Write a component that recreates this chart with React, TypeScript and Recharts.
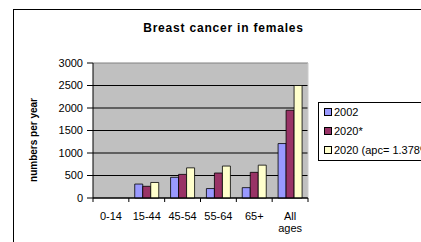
import { BarChart, Bar, XAxis, YAxis, CartesianGrid } from 'recharts';

const ageGroups = ['0-14', '15-44', '45-54', '55-64', '65+', 'All ages'];
const cases2002 = [0, 310, 460, 210, 230, 1210];
const cases2020 = [0, 260, 525, 555, 570, 1950];
const cases2020Apc = [0, 345, 670, 710, 730, 2500];
const yTicks = [0, 500, 1000, 1500, 2000, 2500, 3000];

const series = [
  { key: 'y2002', name: '2002', color: '#9999FF' },
  { key: 'y2020', name: '2020*', color: '#993366' },
  { key: 'y2020apc', name: '2020 (apc= 1.378%)', color: '#FFFFCC' },
];

const data = ageGroups.map((age, i) => ({
  age,
  y2002: cases2002[i],
  y2020: cases2020[i],
  y2020apc: cases2020Apc[i],
}));

const font = '"Liberation Sans", Arial, sans-serif';

function AgeTick(props: any) {
  const { x, y, payload, index, visibleTicksCount, width } = props;
  const half = payload.offset ?? width / (2 * visibleTicksCount);
  const lines = String(payload.value).split(' ');
  return (
    <g>
      <line x1={x - half} y1={y} x2={x - half} y2={y + 4} stroke="#000" />
      {index === visibleTicksCount - 1 && (
        <line x1={x + half} y1={y} x2={x + half} y2={y + 4} stroke="#000" />
      )}
      {lines.map((t, i) => (
        <text key={t} x={x} y={y + 22 + i * 12} textAnchor="middle" fontSize={11} fill="#000">
          {t}
        </text>
      ))}
    </g>
  );
}

function GridLine(p: any) {
  const top = p.y1 === p.y;
  return (
    <line
      key={p.key}
      x1={p.x1}
      y1={p.y1}
      x2={p.x2}
      y2={p.y2}
      stroke={top ? '#808080' : '#000'}
      strokeWidth={1}
    />
  );
}

export default function App() {
  return (
    <div
      style={{
        position: 'absolute',
        left: 0,
        top: 0,
        width: 421,
        height: 242,
        overflow: 'hidden',
        background: '#fff',
        fontFamily: font,
      }}
    >
      <div
        style={{
          position: 'absolute',
          left: 13,
          top: 9,
          width: 600,
          height: 400,
          border: '1px solid #000',
        }}
      />
      <div
        style={{
          position: 'absolute',
          left: 0,
          width: 447,
          top: 21,
          textAlign: 'center',
          fontSize: 12,
          fontWeight: 'bold',
          letterSpacing: 0.8,
        }}
      >
        Breast cancer in females
      </div>
      <div
        style={{
          position: 'absolute',
          left: 33,
          top: 140,
          fontSize: 10,
          fontWeight: 'bold',
          whiteSpace: 'nowrap',
          transform: 'translate(-50%, -50%) rotate(-90deg)',
        }}
      >
        numbers per year
      </div>
      <BarChart
        width={421}
        height={242}
        data={data}
        margin={{ top: 63, right: 113, left: 33, bottom: 0 }}
        barCategoryGap="16.5%"
        barGap={0}
        style={{ position: 'absolute', left: 0, top: 0, fontFamily: font }}
      >
        <CartesianGrid
          fill="#C0C0C0"
          horizontal={GridLine}
          vertical={{ stroke: '#808080' }}
          verticalCoordinatesGenerator={({ offset }: any) => [offset.left + offset.width]}
        />
        <XAxis
          dataKey="age"
          height={44}
          tickSize={0}
          tickMargin={0}
          tickLine={false}
          axisLine={{ stroke: '#000' }}
          interval={0}
          tick={<AgeTick />}
        />
        <YAxis
          width={60}
          domain={[0, 3000]}
          ticks={yTicks}
          tickSize={6}
          tickMargin={4}
          axisLine={{ stroke: '#000' }}
          tickLine={{ stroke: '#000' }}
          tick={{ fontSize: 11, fill: '#000' }}
          interval={0}
        />
        {series.map((s) => (
          <Bar
            key={s.key}
            dataKey={s.key}
            name={s.name}
            fill={s.color}
            stroke="#000"
            strokeWidth={0.8}
            isAnimationActive={false}
          />
        ))}
      </BarChart>
      <div
        style={{
          position: 'absolute',
          left: 318,
          top: 102,
          width: 200,
          height: 57,
          border: '1px solid #000',
          background: '#fff',
          fontSize: 11,
        }}
      >
        {series.map((s, i) => (
          <div
            key={s.key}
            style={{
              position: 'absolute',
              left: 5,
              top: 2 + i * 19,
              height: 14,
              display: 'flex',
              alignItems: 'center',
              whiteSpace: 'nowrap',
            }}
          >
            <span
              style={{
                display: 'inline-block',
                width: 6,
                height: 6,
                border: '1px solid #000',
                background: s.color,
                marginRight: 2,
              }}
            />
            {s.name}
          </div>
        ))}
      </div>
    </div>
  );
}
